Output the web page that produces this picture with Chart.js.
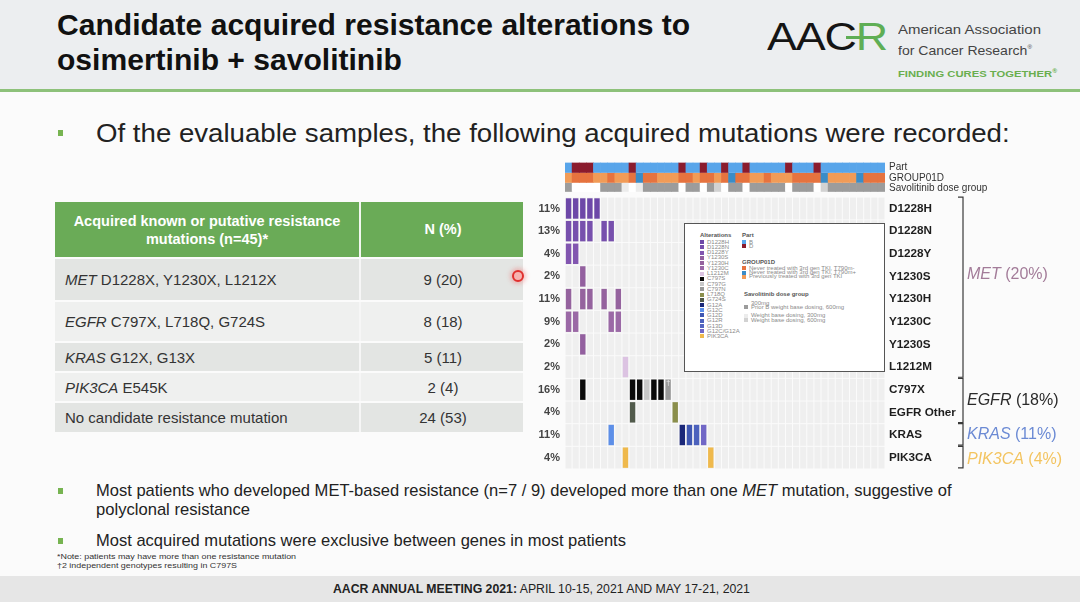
<!DOCTYPE html>
<html>
<head>
<meta charset="utf-8">
<script src="https://cdn.jsdelivr.net/npm/chart.js@4.4.1/dist/chart.umd.min.js"></script>
<style>
  body { margin:0; width:1080px; height:602px; overflow:hidden; position:relative; background:#fbfbfb;
         font-family:"Liberation Sans", Arial, sans-serif; color:#222; }
  .abs { position:absolute; white-space:nowrap; }
  .fit { transform-origin:left center; }
  .narrow { font-family:"Liberation Sans Narrow", "Arial Narrow", "Liberation Sans", sans-serif; }
  .sq { position:absolute; width:5px; height:6px; background:#77b451; }
  .trow { position:absolute; left:55px; width:468px; font-size:15px; color:#333; }
  .trow .c1 { position:absolute; left:10px; white-space:nowrap; }
  .trow .c2 { position:absolute; left:304px; width:164px; text-align:center; border-left:2px solid #f6f6f6; height:100%; }
  #legendBox { position:absolute; left:684px; top:223px; width:199px; height:147px; border:1px solid #555;
               background:#fff; z-index:3; font-size:6px; color:#8a8a8a; }
  #legendBox div { position:absolute; white-space:nowrap; line-height:6px; }
  #legendBox .hd { color:#555; font-weight:bold; }
  .sw { display:inline-block; width:4px; height:4px; margin-right:3px; vertical-align:middle; }
</style>
</head>
<body>

<!-- header -->
<div class="abs" style="left:0;top:0;width:1080px;height:89px;background:#eceef0"></div>
<div class="abs" style="left:0;top:89px;width:1080px;height:3px;background:#8dc17a"></div>
<div class="abs fit" data-w="633" style="left:57px;top:7px;font-size:30px;line-height:36px;font-weight:bold;color:#111">Candidate acquired resistance alterations to</div>
<div class="abs fit" data-w="345" style="left:57px;top:42px;font-size:30px;line-height:36px;font-weight:bold;color:#111">osimertinib + savolitinib</div>

<div class="abs fit" data-w="120" style="left:767px;top:15px;font-size:39px;line-height:44px;color:#151515;letter-spacing:-1px">AAC<span style="color:#5fae55">R</span></div>
<div class="abs" style="left:846px;top:36px;width:16px;height:3px;background:#5fae55"></div>
<div class="abs fit" data-w="143" style="left:898px;top:22px;font-size:13.5px;line-height:16px;color:#444">American Association</div>
<div class="abs fit" data-w="134" style="left:898px;top:39px;font-size:13.5px;line-height:16px;color:#444">for Cancer Research<sup style="font-size:6px">®</sup></div>
<div class="abs fit" data-w="159" style="left:898px;top:66px;font-size:8.5px;line-height:10px;font-weight:bold;color:#6aae4f">FINDING CURES TOGETHER<sup style="font-size:5px">®</sup></div>

<!-- bullet 1 -->
<div class="sq" style="left:58px;top:130px"></div>
<div class="abs fit" data-w="914" style="left:96px;top:118px;font-size:25px;line-height:30px;color:#222">Of the evaluable samples, the following acquired mutations were recorded:</div>

<!-- table -->
<div class="trow" style="top:202px;height:55px;background:#6aab57;color:#fff;font-weight:bold;font-size:14.5px">
  <div style="position:absolute;left:0;width:304px;top:10px;text-align:center;line-height:18px">Acquired known or putative resistance<br>mutations (n=45)*</div>
  <div class="c2" style="border-left:2px solid #f3f7f1;top:0"><div style="padding-top:19px">N (%)</div></div>
</div>
<div class="trow" style="top:259px;height:41px;background:#e3e5e3">
  <div class="c1" style="top:12px"><i>MET</i> D1228X, Y1230X, L1212X</div><div class="c2"><div style="padding-top:12px">9 (20)</div></div>
</div>
<div class="trow" style="top:302px;height:39px;background:#eff0ef">
  <div class="c1" style="top:11px"><i>EGFR</i> C797X, L718Q, G724S</div><div class="c2"><div style="padding-top:11px">8 (18)</div></div>
</div>
<div class="trow" style="top:343px;height:28px;background:#e3e5e3">
  <div class="c1" style="top:6px"><i>KRAS</i> G12X, G13X</div><div class="c2"><div style="padding-top:6px">5 (11)</div></div>
</div>
<div class="trow" style="top:373px;height:28px;background:#eff0ef">
  <div class="c1" style="top:6px"><i>PIK3CA</i> E545K</div><div class="c2"><div style="padding-top:6px">2 (4)</div></div>
</div>
<div class="trow" style="top:403px;height:29px;background:#e3e5e3">
  <div class="c1" style="top:6px">No candidate resistance mutation</div><div class="c2"><div style="padding-top:6px">24 (53)</div></div>
</div>
<!-- laser pointer -->
<div class="abs" style="left:512px;top:270px;width:8px;height:8px;border:2px solid #e0302e;border-radius:50%;background:#f6b3b0;box-shadow:0 0 4px 2px rgba(240,120,120,0.45)"></div>

<!-- oncoprint -->
<div class="abs" style="left:520px;top:160px;width:556px;height:315px">
  <canvas id="onco" width="556" height="315"></canvas>
</div>
<div id="legendBox"></div>

<!-- lower bullets -->
<div class="sq" style="left:58px;top:488px"></div>
<div class="abs fit narrow" data-w="856" style="left:96px;top:480px;font-size:17px;line-height:22px;color:#222">Most patients who developed MET-based resistance (n=7 / 9) developed more than one <i>MET</i> mutation, suggestive of</div>
<div class="abs fit narrow" data-w="154" style="left:96px;top:499px;font-size:17px;line-height:22px;color:#222">polyclonal resistance</div>
<div class="sq" style="left:58px;top:538px"></div>
<div class="abs fit narrow" data-w="530" style="left:96px;top:530px;font-size:17px;line-height:22px;color:#222">Most acquired mutations were exclusive between genes in most patients</div>
<div class="abs fit narrow" data-w="239" style="left:57px;top:553px;font-size:7px;line-height:8px;color:#333">*Note: patients may have more than one resistance mutation</div>
<div class="abs fit narrow" data-w="180" style="left:57px;top:562px;font-size:7px;line-height:8px;color:#333">†2 independent genotypes resulting in C797S</div>

<!-- footer -->
<div class="abs" style="left:0;top:576px;width:1080px;height:26px;background:#e6e6e6"></div>
<div class="abs fit narrow" data-w="417" style="left:333px;top:582px;font-size:12px;line-height:15px;color:#222"><b>AACR ANNUAL MEETING 2021:</b> APRIL 10-15, 2021 AND MAY 17-21, 2021</div>

<script>
// ---- data (45 evaluable patients, columns in plot order) ----
const patients = Array.from({ length: 45 }, (_, i) => 'Pt' + (i + 1));

const trackNames = ['Part', 'GROUP01D', 'Savolitinib dose group'];
// Part: B / D
const partTrack = ['B','D','D','D','B', 'B','B','B','B','D', 'B','B','B','B','B', 'B','D','B','B','D',
                   'B','B','D','B','B', 'D','B','B','B','B', 'B','D','B','B','B', 'D','B','B','B','B',
                   'B','B','B','B','B'];
// GROUP01D: neg = never 3rd gen TKI T790M-, pos = never 3rd gen TKI T790M+, prior = previously treated
const groupTrack = ['prior','neg','neg','neg','prior', 'prior','neg','prior','prior','neg',
                    'pos','neg','neg','prior','prior', 'prior','neg','neg','prior','neg',
                    'neg','prior','neg','pos','neg', 'neg','prior','prior','neg','prior',
                    'prior','prior','neg','neg','neg', 'neg','pos','prior','prior','prior',
                    'prior','pos','neg','neg','neg'];
// Savolitinib dose group: d300 / prior600 / w300 / w600
const doseTrack = ['prior600','d300','d300','d300','d300', 'prior600','prior600','prior600','w300','d300',
                   'w300','prior600','prior600','prior600','prior600', 'prior600','d300','prior600','prior600','d300',
                   'prior600','w600','d300','prior600','prior600', 'd300','prior600','prior600','prior600','prior600',
                   'prior600','d300','prior600','prior600','prior600', 'd300','w600','prior600','prior600','prior600',
                   'prior600','prior600','prior600','prior600','prior600'];

const rowNames = ['D1228H','D1228N','D1228Y','Y1230S','Y1230H','Y1230C','Y1230S','L1212M','C797X','EGFR Other','KRAS','PIK3CA'];
const rowPct   = ['11%','13%','4%','2%','11%','9%','2%','2%','16%','4%','11%','4%'];

// altered patients per row (column index, alteration)
const metD1228H  = [0, 1, 2, 3, 4];
const metD1228N  = [0, 1, 2, 3, 5, 6];
const metD1228Y  = [0, 1];
const metY1230Sa = [2];
const metY1230H  = [0, 2, 3, 5, 7];
const metY1230C  = [0, 1, 6, 7];
const metY1230Sb = [2];
const metL1212M  = [8];
const egfrC797X  = [[2,'C797S'],[9,'C797S'],[10,'C797S'],[11,'C797G'],[12,'C797S'],[13,'C797S'],[14,'C797N']];
const egfrOther  = [[9,'G724S'],[15,'L718Q']];
const krasMut    = [[6,'G12C'],[16,'G12A'],[17,'G12D'],[18,'G12R'],[19,'G12C/G12A']];
const pik3caMut  = [8, 20];
const daggerCell = [14, 8];

const geneGroups = [
  { gene: 'MET',    pct: '(20%)', first: 0,  last: 7 },
  { gene: 'EGFR',   pct: '(18%)', first: 8,  last: 9 },
  { gene: 'KRAS',   pct: '(11%)', first: 10, last: 10 },
  { gene: 'PIK3CA', pct: '(4%)',  first: 11, last: 11 }
];

// ---- styles ----
const altColors = {
  'D1228H': '#6d48a8', 'D1228N': '#7750ad', 'D1228Y': '#8256b0', 'Y1230S': '#93609f', 'Y1230H': '#95639e',
  'Y1230C': '#9b69a6', 'L1212M': '#dcc3e2', 'C797S': '#0b0b0b', 'C797G': '#c8c8c8', 'C797N': '#999999',
  'L718Q': '#8b8f4c', 'G724S': '#515a4b', 'G12A': '#1b2879', 'G12C': '#5d8fe8', 'G12D': '#3f57b2',
  'G12R': '#4c62bd', 'G13D': '#5566c0', 'G12C/G12A': '#7167c6', 'PIK3CA': '#efb94c'
};
const partColors  = { B: '#58a5ea', D: '#8a1b2d' };
const groupColors = { neg: '#e6733f', pos: '#3a8cc7', prior: '#f19b57' };
const doseColors  = { d300: '#ffffff', prior600: '#9c9c9c', w300: '#ececec', w600: '#d2d2d2' };
const geneStyle = {
  MET:    { color: '#a37c99', nudge: -0.6 },
  EGFR:   { color: '#2a2a2a', nudge: 0 },
  KRAS:   { color: '#6b8ad4', nudge: 0 },
  PIK3CA: { color: '#f3c460', nudge: 0.1 }
};
// y range and track bands in row units (row pitch = 1)
const yMin = -2.141, yMax = 11.766;
const trackBands = [[-2.01, -1.59], [-1.57, -1.15], [-1.13, -0.75]];
const trackLabelAt = [-1.81, -1.35, -0.88];

// ---- datasets ----
const metRows = [
  [metD1228H, 'D1228H'], [metD1228N, 'D1228N'], [metD1228Y, 'D1228Y'], [metY1230Sa, 'Y1230S'],
  [metY1230H, 'Y1230H'], [metY1230C, 'Y1230C'], [metY1230Sb, 'Y1230S'], [metL1212M, 'L1212M']
].map(([cols, alt]) => cols.map(c => [c, alt]));
const allRows = metRows.concat([egfrC797X, egfrOther, krasMut, pik3caMut.map(c => [c, 'PIK3CA'])]);

function rowDataset(r, cells) {
  const data = patients.map(() => null);
  const colors = patients.map(() => 'rgba(0,0,0,0)');
  cells.forEach(([c, alt]) => { data[c] = [r - 0.45, r + 0.45]; colors[c] = altColors[alt]; });
  return { data, backgroundColor: colors, barPercentage: 0.76, categoryPercentage: 1, grouped: false, order: 1 };
}
function trackDataset(t, track, colorMap) {
  return { data: patients.map(() => trackBands[t]), backgroundColor: track.map(k => colorMap[k]),
           barPercentage: 1, categoryPercentage: 1, grouped: false, order: 1 };
}
const bgSets = rowNames.map((_, r) => ({
  data: patients.map(() => [r - 0.48, r + 0.48]), backgroundColor: '#efefef',
  barPercentage: 0.86, categoryPercentage: 1, grouped: false, order: 5
}));

const datasets = [
  trackDataset(0, partTrack, partColors),
  trackDataset(1, groupTrack, groupColors),
  trackDataset(2, doseTrack, doseColors)
].concat(allRows.map((cells, r) => rowDataset(r, cells))).concat(bgSets);

const rightLabels = trackNames.concat(rowNames);

const bracketPlugin = {
  id: 'brackets',
  afterDraw(chart) {
    const { ctx, chartArea, scales: { x, y } } = chart;
    ctx.save();
    // dagger on the C797X genotype flagged in the footnote
    ctx.fillStyle = '#f4f4f4';
    ctx.font = '7px "Liberation Sans", Arial';
    ctx.textAlign = 'center'; ctx.textBaseline = 'middle';
    ctx.fillText('†', x.getPixelForValue(daggerCell[0]), y.getPixelForValue(daggerCell[1] - 0.3));

    const bx = chartArea.right + 78;
    geneGroups.forEach(g => {
      const st = geneStyle[g.gene];
      const top = y.getPixelForValue(g.first - 0.5);
      const bot = y.getPixelForValue(g.last + 0.45);
      ctx.strokeStyle = '#3a3a3a'; ctx.lineWidth = 1.2;
      ctx.beginPath();
      ctx.moveTo(bx - 5, top); ctx.lineTo(bx, top); ctx.lineTo(bx, bot); ctx.lineTo(bx - 5, bot);
      ctx.stroke();
      const ly = y.getPixelForValue((g.first + g.last) / 2 + st.nudge);
      ctx.fillStyle = st.color; ctx.textAlign = 'left'; ctx.textBaseline = 'middle';
      ctx.font = 'italic 16px "Liberation Sans", Arial';
      ctx.fillText(g.gene, bx + 4, ly);
      const w = ctx.measureText(g.gene).width;
      ctx.font = '16px "Liberation Sans", Arial';
      ctx.fillText(' ' + g.pct, bx + 4 + w, ly);
    });
    ctx.restore();
  }
};

new Chart(document.getElementById('onco'), {
  type: 'bar',
  data: { labels: patients, datasets },
  plugins: [bracketPlugin],
  options: {
    responsive: false,
    animation: false,
    devicePixelRatio: 1,
    layout: { padding: 0 },
    plugins: { legend: { display: false }, tooltip: { enabled: false } },
    scales: {
      x: { type: 'category', display: false, offset: true },
      y: {
        type: 'linear', position: 'left', reverse: true, min: yMin, max: yMax,
        grid: { display: false, drawTicks: false }, border: { display: false },
        afterBuildTicks: s => { s.ticks = rowNames.map((_, i) => ({ value: i })); },
        afterFit: s => { s.width = 45; s.paddingTop = 0; s.paddingBottom = 0; },
        ticks: {
          autoSkip: false, padding: 5, color: '#444',
          font: { family: '"Liberation Sans", Arial', size: 11, weight: 'bold' },
          callback: (v, i) => rowPct[i]
        }
      },
      y2: {
        type: 'linear', position: 'right', reverse: true, min: yMin, max: yMax,
        grid: { display: false, drawTicks: false }, border: { display: false },
        afterBuildTicks: s => { s.ticks = trackLabelAt.concat(rowNames.map((_, i) => i)).map(v => ({ value: v })); },
        afterFit: s => { s.width = 191; s.paddingTop = 0; s.paddingBottom = 0; },
        ticks: {
          autoSkip: false, padding: 4,
          color: ctx => ctx.index < 3 ? '#333' : '#1e1e1e',
          font: ctx => ctx.index < 3
            ? { family: '"Liberation Sans", Arial', size: 10, weight: 'normal' }
            : { family: '"Liberation Sans", Arial', size: 11.7, weight: 'bold' },
          callback: (v, i) => rightLabels[i]
        }
      }
    }
  }
});

// ---- legend box inside the oncoprint ----
const lb = document.getElementById('legendBox');
function put(x, y, html, cls) {
  const d = document.createElement('div');
  d.style.left = x + 'px'; d.style.top = (y - 3) + 'px';
  if (cls) d.className = cls;
  d.innerHTML = html;
  lb.appendChild(d);
}
const sw = c => `<span class="sw" style="background:${c}"></span>`;
put(15, 11, 'Alterations', 'hd');
Object.keys(altColors).forEach((k, i) => put(15, 17.7 + i * 5.24, sw(altColors[k]) + k));
put(57, 11, 'Part', 'hd');
put(57, 17.7, sw(partColors.B) + 'B');
put(57, 21.5, sw(partColors.D) + 'D');
put(57, 37.7, 'GROUP01D', 'hd');
put(57, 44, sw(groupColors.neg) + 'Never treated with 3rd gen TKI, T790m-');
put(57, 48.2, sw(groupColors.pos) + 'Never treated with 3rd gen TKI, T790m+');
put(57, 52.4, sw(groupColors.prior) + 'Previously treated with 3rd gen TKI');
put(59, 69.7, 'Savolitinib dose group', 'hd');
put(59, 78.7, sw(doseColors.d300) + '300mg');
put(59, 83, sw(doseColors.prior600) + 'Prior B weight base dosing, 600mg');
put(59, 91.3, sw(doseColors.w300) + 'Weight base dosing, 300mg');
put(59, 96, sw(doseColors.w600) + 'Weight base dosing, 600mg');

// ---- stretch text lines to the widths measured on the slide ----
document.querySelectorAll('.fit').forEach(el => {
  const w = el.getBoundingClientRect().width;
  el.style.transform = `scaleX(${(+el.dataset.w / w).toFixed(3)})`;
});
</script>
</body>
</html>
